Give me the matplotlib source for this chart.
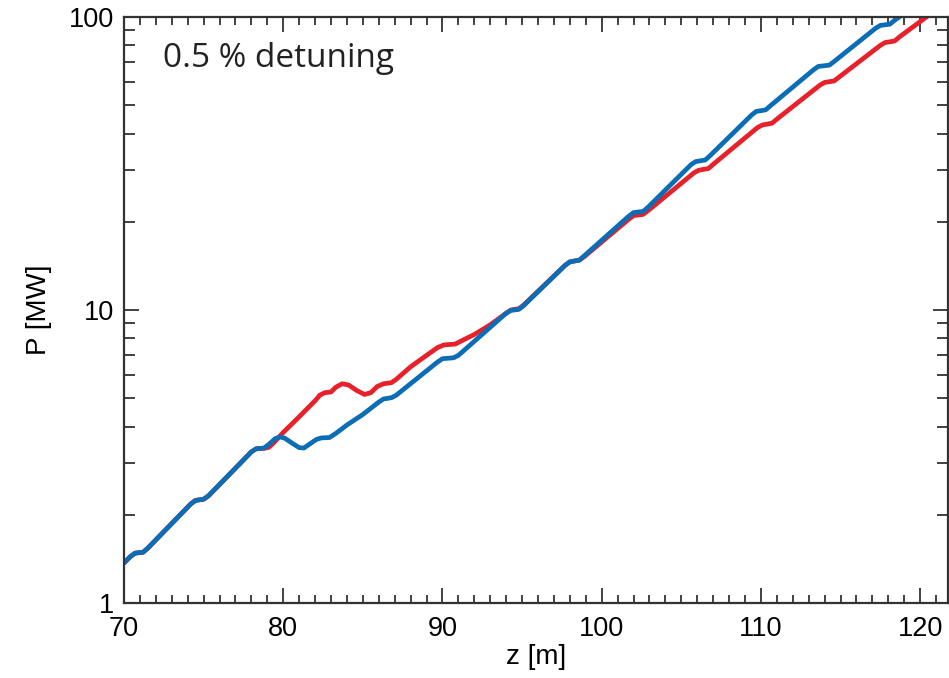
import numpy as np
import matplotlib
matplotlib.use("Agg")
import matplotlib.pyplot as plt
from matplotlib.ticker import FixedLocator, NullFormatter

#%% data: z [m] and P [MW]
z_blue = [70.0, 70.4, 70.7, 71.2, 71.5, 74.2, 74.5, 75.0, 75.3, 78.0, 78.3, 78.8,
          79.1, 79.5, 79.8, 80.1, 80.6, 81.0, 81.3, 81.7, 82.1, 82.4, 82.9, 83.3,
          84.0, 85.0, 86.0, 86.3, 86.8, 87.1, 89.7, 90.0, 90.7, 91.0, 94.0, 94.3,
          94.8, 95.1, 97.7, 98.0, 98.6, 98.9, 101.7, 102.0, 102.6, 102.9, 105.6,
          105.9, 106.5, 106.8, 109.4, 109.7, 110.3, 110.6, 113.3, 113.6, 114.3,
          114.6, 117.2, 117.5, 118.1, 118.4, 118.8]
p_blue = [1.37, 1.44, 1.48, 1.49, 1.54, 2.18, 2.24, 2.26, 2.32, 3.28, 3.36, 3.38,
          3.48, 3.64, 3.69, 3.65, 3.50, 3.39, 3.38, 3.50, 3.62, 3.66, 3.67, 3.79,
          4.05, 4.40, 4.85, 4.97, 5.02, 5.12, 6.65, 6.82, 6.87, 7.00, 9.75, 9.97,
          10.05, 10.35, 14.2, 14.6, 14.8, 15.3, 20.9, 21.5, 21.7, 22.4, 31.3,
          32.1, 32.5, 33.6, 46.2, 47.6, 48.2, 49.8, 66.0, 67.8, 68.5,
          70.5, 91.5, 93.6, 94.5, 97.5, 101.0]

z_red = [70.0, 70.4, 70.7, 71.2, 71.5, 74.2, 74.5, 75.0, 75.3, 78.0, 78.3, 78.8,
         79.1, 79.4, 80.0, 81.0, 82.0, 82.3, 82.6, 83.0, 83.3, 83.7, 84.1, 84.6,
         85.1, 85.5, 85.9, 86.3, 86.8, 87.1, 88.0, 89.0, 89.7, 90.1, 90.8, 91.2,
         92.0, 93.0, 94.0, 94.3, 94.8, 95.1, 97.7, 98.0, 98.6, 98.9, 101.7, 102.0,
         102.6, 102.9, 105.8, 106.1, 106.7, 107.0, 109.8, 110.1, 110.7, 111.0,
         113.7, 114.0, 114.6, 114.9, 117.5, 117.8, 118.4, 118.7, 120.5]
p_red = [1.37, 1.44, 1.48, 1.49, 1.54, 2.18, 2.24, 2.26, 2.32, 3.28, 3.36, 3.37,
         3.40, 3.52, 3.82, 4.32, 4.90, 5.12, 5.22, 5.25, 5.45, 5.60, 5.55, 5.32,
         5.15, 5.22, 5.48, 5.60, 5.65, 5.80, 6.40, 7.00, 7.45, 7.60, 7.65, 7.85,
         8.25, 8.90, 9.75, 10.0, 10.1, 10.4, 14.2, 14.6, 14.8, 15.2, 20.4, 21.0,
         21.2, 21.8, 29.4, 30.0, 30.4, 31.4, 42.0, 42.8, 43.4, 44.8,
         58.5, 59.8, 60.5, 62.3, 80.0, 81.8, 82.8, 85.5, 101.0]

x_ticks = [70, 80, 90, 100, 110, 120]
y_ticks = [1, 10, 100]
y_ticklabels = ['1', '10', '100']

#%% plot
plt.rcParams['font.family'] = ['Liberation Sans', 'DejaVu Sans']

fig = plt.figure(figsize=(9.49, 6.78), dpi=100)
ax = fig.add_axes([124/949, 75/678, 824/949, 586/678])

ax.plot(z_red, p_red, color='#e8202a', lw=3.4, solid_joinstyle='round', solid_capstyle='round')
ax.plot(z_blue, p_blue, color='#0b6db5', lw=3.4, solid_joinstyle='round', solid_capstyle='round')

ax.set_yscale('log')
ax.set_xlim(70, 121.75)
ax.set_ylim(1, 100)

ax.set_xticks(x_ticks)
ax.xaxis.set_minor_locator(FixedLocator(np.arange(71, 122, 1)))
ax.set_yticks(y_ticks)
ax.set_yticklabels(y_ticklabels)
ax.yaxis.set_minor_formatter(NullFormatter())

ax.tick_params(which='both', direction='in', top=True, right=True, color='#333333', width=1.3)
ax.tick_params(which='major', length=11, labelsize=19.5)
ax.tick_params(axis='x', which='major', pad=9)
ax.tick_params(axis='y', which='major', pad=7)
ax.tick_params(which='minor', length=6)
ax.tick_params(axis='y', which='minor', length=8)
for s in ax.spines.values():
    s.set_linewidth(1.6)
    s.set_color('#333333')

ax.set_xlabel('z [m]', fontsize=20, labelpad=2)
ax.set_ylabel('P [MW]', fontsize=20, labelpad=12)

ax.text(0.047, 0.915, '0.5 % detuning', transform=ax.transAxes, fontsize=24,
        family=['Open Sans', 'DejaVu Sans'], color='#222222', va='baseline')

fig.savefig('out.png', dpi=100)
